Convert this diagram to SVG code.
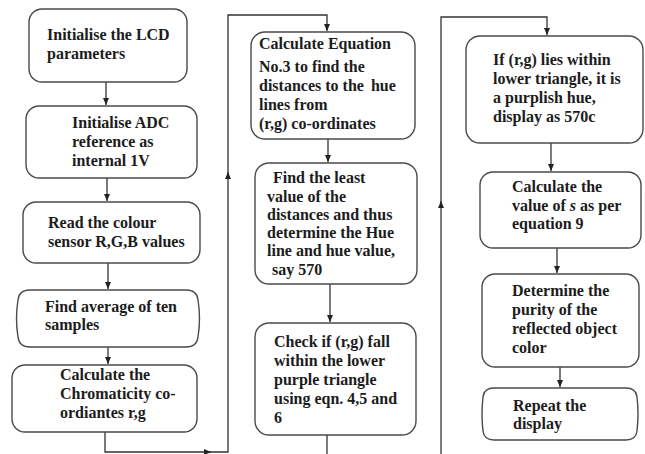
<svg xmlns="http://www.w3.org/2000/svg" width="645" height="454" viewBox="0 0 645 454">
<defs>
<style>
.box{fill:#fff;stroke:#4a4a4a;stroke-width:1.4}
.t{font-family:"Liberation Serif","Times New Roman",serif;font-weight:bold;font-size:16px;fill:#1c1c1c}
.ln{fill:none;stroke:#333;stroke-width:1.3}
</style>
<marker id="ah" markerWidth="8" markerHeight="8" refX="7" refY="4" orient="auto" markerUnits="userSpaceOnUse">
<path d="M0,1 L7,4 L0,7 Z" fill="#222"/>
</marker>
</defs>
<rect width="645" height="454" fill="#fff"/>

<g id="connectors">
<path class="ln" d="M106,82 V105" marker-end="url(#ah)"/>
<path class="ln" d="M107,178 V201" marker-end="url(#ah)"/>
<path class="ln" d="M108,263 V289" marker-end="url(#ah)"/>
<path class="ln" d="M108,347 V364" marker-end="url(#ah)"/>
<path class="ln" d="M105,432 V452 H211" marker-end="url(#ah)"/>
<path class="ln" d="M210,452 H228 V172" marker-end="url(#ah)"/>
<path class="ln" d="M228,174 V15 H327 V31" marker-end="url(#ah)"/>
<path class="ln" d="M328,139 V162" marker-end="url(#ah)"/>
<path class="ln" d="M330,284 V322" marker-end="url(#ah)"/>
<path class="ln" d="M327,435 V454"/>
<path class="ln" d="M441,454 V201" marker-end="url(#ah)"/>
<path class="ln" d="M441,203 V17 H547 V35" marker-end="url(#ah)"/>
<path class="ln" d="M551,143 V171" marker-end="url(#ah)"/>
<path class="ln" d="M557,248 V273" marker-end="url(#ah)"/>
<path class="ln" d="M560,367 V387" marker-end="url(#ah)"/>
</g>

<g id="n1">
<rect class="box" x="29" y="9" width="158" height="73" rx="13"/>
<text class="t" x="47" y="40">Initialise the LCD</text>
<text class="t" x="47" y="59">parameters</text>
</g>
<g id="n2">
<rect class="box" x="26" y="106" width="171" height="72" rx="13"/>
<text class="t" x="72" y="128">Initialise ADC</text>
<text class="t" x="72" y="147">reference as</text>
<text class="t" x="72" y="166">internal 1V</text>
</g>
<g id="n3">
<rect class="box" x="23" y="202" width="177" height="61" rx="13"/>
<text class="t" x="48" y="228">Read the colour</text>
<text class="t" x="48" y="247">sensor R,G,B values</text>
</g>
<g id="n4">
<path class="box" d="M30,290 H186 Q197,290 198,300 Q201,318 198,337 Q197,347 186,347 H30 Q19,347 18,337 Q15,318 18,300 Q19,290 30,290 Z"/>
<text class="t" x="45" y="312">Find average of ten</text>
<text class="t" x="45" y="330">samples</text>
</g>
<g id="n5">
<rect class="box" x="12" y="365" width="185" height="67" rx="13"/>
<text class="t" x="60" y="380">Calculate the</text>
<text class="t" x="60" y="399">Chromaticity co-</text>
<text class="t" x="60" y="418">ordiantes r,g</text>
</g>

<g id="n6">
<rect class="box" x="251" y="32" width="164" height="107" rx="14"/>
<text class="t" x="259" y="49">Calculate Equation</text>
<text class="t" x="259" y="72">No.3 to find the</text>
<text class="t" x="259" y="91">distances to the <tspan dx="3">hue</tspan></text>
<text class="t" x="259" y="110">lines from</text>
<text class="t" x="259" y="129">(r,g) co-ordinates</text>
</g>
<g id="n7">
<rect class="box" x="255" y="163" width="162" height="121" rx="14"/>
<text class="t" x="273" y="183">Find the least</text>
<text class="t" x="267" y="202">value of the</text>
<text class="t" x="267" y="220">distances and thus</text>
<text class="t" x="267" y="238">determine the Hue</text>
<text class="t" x="267" y="256">line and hue value,</text>
<text class="t" x="272" y="275">say 570</text>
</g>
<g id="n8">
<rect class="box" x="255" y="323" width="161" height="112" rx="14"/>
<text class="t" x="274" y="347">Check if (r,g) fall</text>
<text class="t" x="274" y="366">within the lower</text>
<text class="t" x="274" y="385">purple triangle</text>
<text class="t" x="274" y="404">using eqn. 4,5 and</text>
<text class="t" x="274" y="423">6</text>
</g>

<g id="n9">
<rect class="box" x="466" y="36" width="177" height="107" rx="14"/>
<text class="t" x="493" y="65">If (r,g) lies within</text>
<text class="t" x="493" y="84">lower triangle, it is</text>
<text class="t" x="493" y="103">a purplish hue,</text>
<text class="t" x="493" y="122">display as 570c</text>
</g>
<g id="n10">
<rect class="box" x="480" y="172" width="161" height="76" rx="13"/>
<text class="t" x="512" y="192">Calculate the</text>
<text class="t" x="512" y="211">value of <tspan font-style="italic">s</tspan><tspan dx="4">as per</tspan></text>
<text class="t" x="512" y="229">equation 9</text>
</g>
<g id="n11">
<rect class="box" x="482" y="274" width="157" height="93" rx="13"/>
<text class="t" x="512" y="296">Determine the</text>
<text class="t" x="512" y="315">purity of the</text>
<text class="t" x="512" y="334">reflected object</text>
<text class="t" x="512" y="353">color</text>
</g>
<g id="n12">
<path class="box" d="M494,388 H626 Q636,388 637,397 Q639,414 637,431 Q636,440 626,440 H494 Q484,440 483,431 Q481,414 483,397 Q484,388 494,388 Z"/>
<text class="t" x="513" y="411">Repeat the</text>
<text class="t" x="513" y="429">display</text>
</g>
</svg>
